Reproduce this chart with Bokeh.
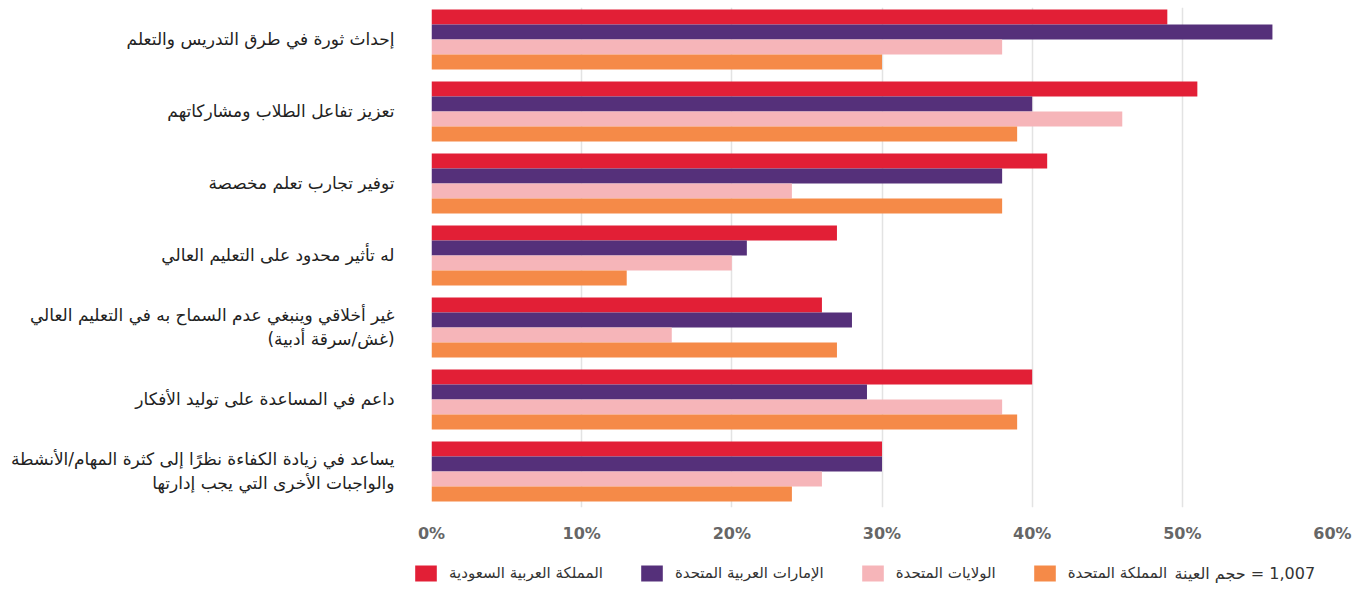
from bokeh.plotting import figure
from bokeh.layouts import column
from bokeh.models import FixedTicker, Range1d, ColumnDataSource, Legend, LegendItem, Label
from bokeh.embed import file_html
from bokeh.resources import INLINE

categories = [
    "إحداث ثورة في طرق التدريس والتعلم",
    "تعزيز تفاعل الطلاب ومشاركاتهم",
    "توفير تجارب تعلم مخصصة",
    "له تأثير محدود على التعليم العالي",
    "غير أخلاقي وينبغي عدم السماح به في التعليم العالي\n(غش/سرقة أدبية)",
    "داعم في المساعدة على توليد الأفكار",
    "يساعد في زيادة الكفاءة نظرًا إلى كثرة المهام/الأنشطة\nوالواجبات الأخرى التي يجب إدارتها",
]
series_names = [
    "المملكة العربية السعودية",
    "الإمارات العربية المتحدة",
    "الولايات المتحدة",
    "المملكة المتحدة",
]
saudi = [49, 51, 41, 27, 26, 40, 30]
uae = [56, 40, 38, 21, 28, 29, 30]
usa = [38, 46, 24, 20, 16, 38, 26]
uk = [30, 39, 38, 13, 27, 39, 24]
series_colors = ["#E21F36", "#55307A", "#F6B5B9", "#F58A48"]
x_ticks = [0, 10, 20, 30, 40, 50, 60]
x_tick_labels = ["0%", "10%", "20%", "30%", "40%", "50%", "60%"]
sample_label = "حجم العينة"
sample_size = "1,007"

FONT = "DejaVu Sans"

p = figure(width=1355, height=547, output_backend="svg", toolbar_location=None,
           x_range=Range1d(0, 60), y_range=Range1d(6.5, -0.444),
           min_border_left=431, min_border_right=23, min_border_top=7,
           min_border_bottom=40)
p.outline_line_color = None
p.frame_align = False

bar_h = 15 / 72
series = [saudi, uae, usa, uk]
idx = list(range(len(categories)))
sources = []
for k, (vals, col) in enumerate(zip(series, series_colors)):
    off = (k - 1.5) * bar_h
    src = ColumnDataSource(dict(y=[i + off for i in idx], v=vals))
    sources.append(src)
    p.hbar(y="y", right="v", left=0, height=bar_h, source=src,
           fill_color=col, line_color=None)

# x axis
p.xaxis.ticker = FixedTicker(ticks=x_ticks)
p.xaxis.major_label_overrides = {t: l for t, l in zip(x_ticks, x_tick_labels)}
p.xaxis.axis_line_color = None
p.xaxis.major_tick_line_color = None
p.xaxis.minor_tick_line_color = None
p.xaxis.major_tick_out = 0
p.xaxis.major_tick_in = 0
p.xaxis.major_label_standoff = 16
p.xaxis.major_label_text_font = FONT
p.xaxis.major_label_text_font_style = "bold"
p.xaxis.major_label_text_font_size = "16px"
p.xaxis.major_label_text_color = "#666666"

# y axis
p.yaxis.ticker = FixedTicker(ticks=idx)
p.yaxis.major_label_overrides = {i: c for i, c in zip(idx, categories)}
p.yaxis.axis_line_color = None
p.yaxis.major_tick_line_color = None
p.yaxis.minor_tick_line_color = None
p.yaxis.major_tick_out = 0
p.yaxis.major_tick_in = 0
p.yaxis.major_label_standoff = 37
p.yaxis.major_label_text_font = FONT
p.yaxis.major_label_text_font_size = "17px"
p.yaxis.major_label_text_color = "#222222"

p.ygrid.grid_line_color = None
p.xgrid.grid_line_color = "#E3E3E3"
p.xgrid.grid_line_width = 1.5

# legend strip (its own frame spans the whole strip; the series glyphs lie outside its ranges)
lg = figure(width=1355, height=41, output_backend="svg", toolbar_location=None,
            x_range=Range1d(-2, -1), y_range=Range1d(-2, -1),
            min_border_left=0, min_border_right=0, min_border_top=0, min_border_bottom=0,
            x_axis_type=None, y_axis_type=None)
lg.outline_line_color = None
lg.grid.grid_line_color = None
lg.frame_align = False
items = []
for name, col, src in zip(series_names, series_colors, sources):
    r = lg.hbar(y="y", right="v", left=0, height=bar_h, source=src,
                fill_color=col, line_color=None)
    items.append(LegendItem(label=name, renderers=[r]))
legend = Legend(items=items, orientation="horizontal", location=(412, 5),
                padding=0, margin=0, border_line_color=None, background_fill_alpha=0,
                glyph_width=27, glyph_height=20, label_standoff=10, spacing=35,
                label_text_font=FONT, label_text_font_size="15px", label_text_color="#333333")
lg.add_layout(legend, "center")
# LRM before the number keeps it on the right of the Arabic words, as in the source
note = Label(x=1174, y=15, x_units="screen", y_units="screen",
             text=sample_label + " = \u200e" + sample_size,
             text_baseline="middle", text_font=FONT, text_font_size="16px",
             text_color="#333333")
lg.add_layout(note)

layout = column(p, lg, spacing=0)
open("out.html", "w").write(file_html(layout, INLINE))
